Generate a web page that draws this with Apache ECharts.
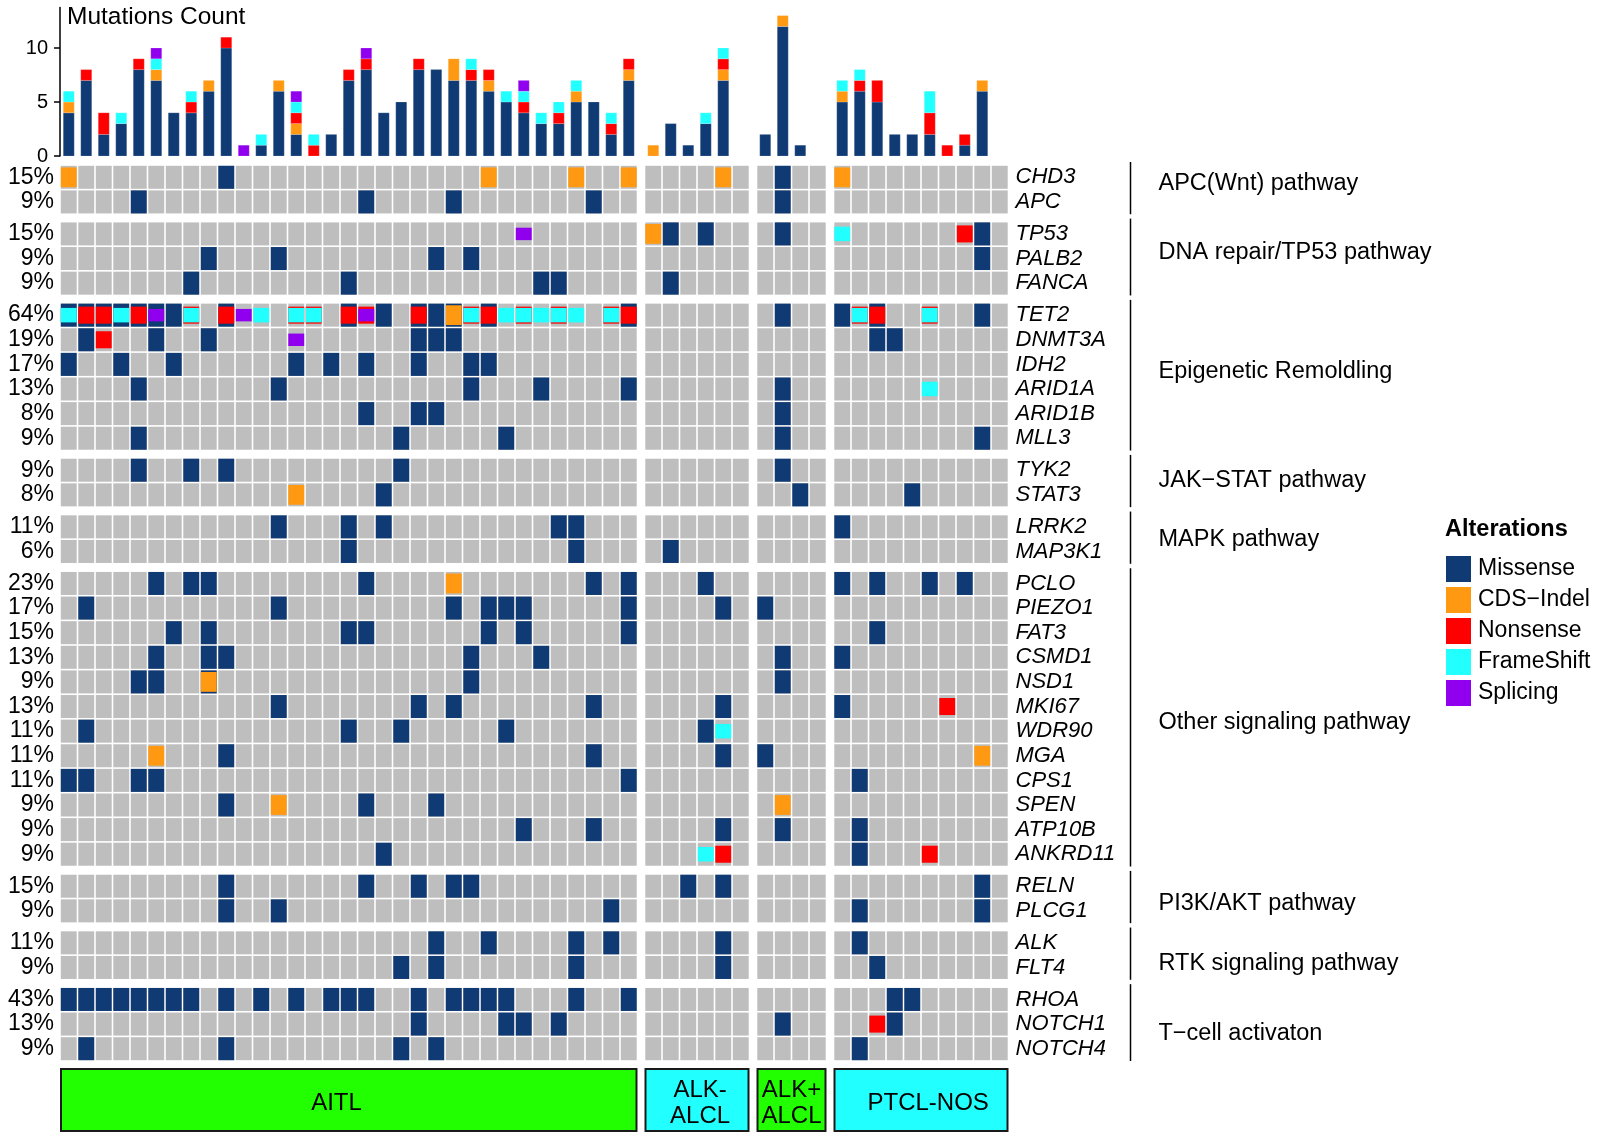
<!DOCTYPE html>
<html><head><meta charset="utf-8">
<script src="https://cdn.jsdelivr.net/npm/echarts@6/dist/echarts.min.js"></script>
<style>html,body{margin:0;padding:0;background:#fff}#c{width:1599px;height:1140px}</style>
</head><body><div id="c"></div>
<script>
// ---------- DATA ----------
const alterationTypes = ['Missense', 'CDS\u2212Indel', 'Nonsense', 'FrameShift', 'Splicing'];
const alterationCodes = ['M', 'I', 'N', 'F', 'S'];
const alterationColors = ['#0f3a73', '#ff9912', '#ff0000', '#22ffff', '#9000ee'];

const cohorts = ['AITL', 'ALK-\nALCL', 'ALK+\nALCL', 'PTCL-NOS'];
const cohortSizes = [33, 6, 4, 10];
const cohortColors = ['#22ff00', '#22ffff', '#22ff00', '#22ffff'];

const pathways = ['APC(Wnt) pathway', 'DNA repair/TP53 pathway', 'Epigenetic Remoldling', 'JAK\u2212STAT pathway',
  'MAPK pathway', 'Other signaling pathway', 'PI3K/AKT pathway', 'RTK signaling pathway', 'T\u2212cell activaton'];
const pathwayGenes = [
  ['CHD3', 'APC'],
  ['TP53', 'PALB2', 'FANCA'],
  ['TET2', 'DNMT3A', 'IDH2', 'ARID1A', 'ARID1B', 'MLL3'],
  ['TYK2', 'STAT3'],
  ['LRRK2', 'MAP3K1'],
  ['PCLO', 'PIEZO1', 'FAT3', 'CSMD1', 'NSD1', 'MKI67', 'WDR90', 'MGA', 'CPS1', 'SPEN', 'ATP10B', 'ANKRD11'],
  ['RELN', 'PLCG1'],
  ['ALK', 'FLT4'],
  ['RHOA', 'NOTCH1', 'NOTCH4']
];
const percentLabels = ['15%', '9%', '15%', '9%', '9%', '64%', '19%', '17%', '13%', '8%', '9%', '9%', '8%', '11%', '6%',
  '23%', '17%', '15%', '13%', '9%', '13%', '11%', '11%', '11%', '9%', '9%', '9%', '15%', '9%', '11%', '9%', '43%', '13%', '9%'];

// bar chart: mutation counts per sample (53 samples)
const countMissense   = [4,7,2,3,8,7,4,4,6,10,0,1,6,2,0,2,7,8,4,5,8,8,7,7,6,5,4,3,3,5,5,2,7, 0,3,1,3,7,0, 2,12,1,0, 5,6,5,2,2,2,0,1,6,0];
const countCDSIndel   = [1,0,0,0,0,1,0,0,1,0,0,0,1,1,0,0,0,0,0,0,0,0,2,0,1,0,0,0,0,1,0,0,1, 1,0,0,0,1,0, 0,1,0,0, 1,0,0,0,0,0,0,0,1,0];
const countNonsense   = [0,1,2,0,1,0,0,1,0,1,0,0,0,1,1,0,1,1,0,0,1,0,0,1,1,0,1,0,1,0,0,1,1, 0,0,0,0,1,0, 0,0,0,0, 0,1,2,0,0,2,1,1,0,0];
const countFrameShift = [1,0,0,1,0,1,0,1,0,0,0,1,0,1,1,0,0,0,0,0,0,0,0,1,0,1,1,1,1,1,0,1,0, 0,0,0,1,1,0, 0,0,0,0, 1,1,0,0,0,2,0,0,0,0];
const countSplicing   = [0,0,0,0,0,1,0,0,0,0,1,0,0,1,0,0,0,1,0,0,0,0,0,0,0,0,1,0,0,0,0,0,0, 0,0,0,0,0,0, 0,0,0,0, 0,0,0,0,0,0,0,0,0,0];
const yTicks = [0, 5, 10];

// oncoprint cells: [sample index, alteration code(s)] ; two letters = outer + inner
const mut_CHD3    = [[0,'I'],[9,'M'],[24,'I'],[29,'I'],[32,'I'],[37,'I'],[40,'M'],[43,'I']];
const mut_APC     = [[4,'M'],[17,'M'],[22,'M'],[30,'M'],[40,'M']];
const mut_TP53    = [[26,'S'],[33,'I'],[34,'M'],[36,'M'],[40,'M'],[43,'F'],[50,'N'],[51,'M']];
const mut_PALB2   = [[8,'M'],[12,'M'],[21,'M'],[23,'M'],[51,'M']];
const mut_FANCA   = [[7,'M'],[16,'M'],[27,'M'],[28,'M'],[34,'M']];
const mut_TET2    = [[0,'MF'],[1,'MN'],[2,'MN'],[3,'MF'],[4,'MN'],[5,'MS'],[6,'M'],[7,'NF'],[9,'MN'],[10,'S'],[11,'F'],
  [13,'NF'],[14,'NF'],[16,'MN'],[17,'NS'],[18,'M'],[20,'MN'],[21,'M'],[22,'MI'],[23,'NF'],[24,'MN'],[25,'F'],[26,'NF'],
  [27,'F'],[28,'NF'],[29,'F'],[31,'NF'],[32,'MN'],[40,'M'],[43,'M'],[44,'NF'],[45,'MN'],[48,'NF'],[51,'M']];
const mut_DNMT3A  = [[1,'M'],[2,'N'],[5,'M'],[8,'M'],[13,'S'],[20,'M'],[21,'M'],[22,'M'],[45,'M'],[46,'M']];
const mut_IDH2    = [[0,'M'],[3,'M'],[6,'M'],[13,'M'],[15,'M'],[17,'M'],[20,'M'],[23,'M'],[24,'M']];
const mut_ARID1A  = [[4,'M'],[12,'M'],[23,'M'],[27,'M'],[32,'M'],[40,'M'],[48,'F']];
const mut_ARID1B  = [[17,'M'],[20,'M'],[21,'M'],[40,'M']];
const mut_MLL3    = [[4,'M'],[19,'M'],[25,'M'],[40,'M'],[51,'M']];
const mut_TYK2    = [[4,'M'],[7,'M'],[9,'M'],[19,'M'],[40,'M']];
const mut_STAT3   = [[13,'I'],[18,'M'],[41,'M'],[47,'M']];
const mut_LRRK2   = [[12,'M'],[16,'M'],[18,'M'],[28,'M'],[29,'M'],[43,'M']];
const mut_MAP3K1  = [[16,'M'],[29,'M'],[34,'M']];
const mut_PCLO    = [[5,'M'],[7,'M'],[8,'M'],[17,'M'],[22,'I'],[30,'M'],[32,'M'],[36,'M'],[43,'M'],[45,'M'],[48,'M'],[50,'M']];
const mut_PIEZO1  = [[1,'M'],[12,'M'],[22,'M'],[24,'M'],[25,'M'],[26,'M'],[32,'M'],[37,'M'],[39,'M']];
const mut_FAT3    = [[6,'M'],[8,'M'],[16,'M'],[17,'M'],[24,'M'],[26,'M'],[32,'M'],[45,'M']];
const mut_CSMD1   = [[5,'M'],[8,'M'],[9,'M'],[23,'M'],[27,'M'],[40,'M'],[43,'M']];
const mut_NSD1    = [[4,'M'],[5,'M'],[8,'MI'],[23,'M'],[40,'M']];
const mut_MKI67   = [[12,'M'],[20,'M'],[22,'M'],[30,'M'],[37,'M'],[43,'M'],[49,'N']];
const mut_WDR90   = [[1,'M'],[16,'M'],[19,'M'],[25,'M'],[36,'M'],[37,'F']];
const mut_MGA     = [[5,'I'],[9,'M'],[30,'M'],[37,'M'],[39,'M'],[51,'I']];
const mut_CPS1    = [[0,'M'],[1,'M'],[4,'M'],[5,'M'],[32,'M'],[44,'M']];
const mut_SPEN    = [[9,'M'],[12,'I'],[17,'M'],[21,'M'],[40,'I']];
const mut_ATP10B  = [[26,'M'],[30,'M'],[37,'M'],[40,'M'],[44,'M']];
const mut_ANKRD11 = [[18,'M'],[36,'F'],[37,'N'],[44,'M'],[48,'N']];
const mut_RELN    = [[9,'M'],[17,'M'],[20,'M'],[22,'M'],[23,'M'],[35,'M'],[37,'M'],[51,'M']];
const mut_PLCG1   = [[9,'M'],[12,'M'],[31,'M'],[44,'M'],[51,'M']];
const mut_ALK     = [[21,'M'],[24,'M'],[29,'M'],[31,'M'],[37,'M'],[44,'M']];
const mut_FLT4    = [[19,'M'],[21,'M'],[29,'M'],[37,'M'],[45,'M']];
const mut_RHOA    = [[0,'M'],[1,'M'],[2,'M'],[3,'M'],[4,'M'],[5,'M'],[6,'M'],[7,'M'],[9,'M'],[11,'M'],[13,'M'],[15,'M'],
  [16,'M'],[17,'M'],[20,'M'],[22,'M'],[23,'M'],[24,'M'],[25,'M'],[29,'M'],[32,'M'],[46,'M'],[47,'M']];
const mut_NOTCH1  = [[20,'M'],[25,'M'],[26,'M'],[28,'M'],[40,'M'],[45,'N'],[46,'M']];
const mut_NOTCH4  = [[1,'M'],[9,'M'],[19,'M'],[21,'M'],[44,'M']];

const geneMutations = [mut_CHD3, mut_APC, mut_TP53, mut_PALB2, mut_FANCA, mut_TET2, mut_DNMT3A, mut_IDH2, mut_ARID1A,
  mut_ARID1B, mut_MLL3, mut_TYK2, mut_STAT3, mut_LRRK2, mut_MAP3K1, mut_PCLO, mut_PIEZO1, mut_FAT3, mut_CSMD1, mut_NSD1,
  mut_MKI67, mut_WDR90, mut_MGA, mut_CPS1, mut_SPEN, mut_ATP10B, mut_ANKRD11, mut_RELN, mut_PLCG1, mut_ALK, mut_FLT4,
  mut_RHOA, mut_NOTCH1, mut_NOTCH4];

// ---------- LAYOUT ----------
const FONT = '"Liberation Sans", Arial, Helvetica, sans-serif';
const GAPX = 0.4, GAPY = 0.3;
const heightFrac = { M: 1.0, I: 0.86, N: 0.74, F: 0.63, S: 0.54 };
const pathwayLabelNudge = [-4, -4, -3, 0, 2, 6, 7, 10, 11];   // px, vertical text nudges
const cohortLabelNudge = [-12, 3, 0, 7];                      // px, horizontal text nudges
const codeColor = {}; alterationCodes.forEach((c, i) => codeColor[c] = alterationColors[i]);

const colX = []; const cohortRange = [];
let off = 0;
cohortSizes.forEach((n, g) => {
  const s = off + g * GAPX;
  for (let i = 0; i < n; i++) colX.push(s + i + 0.5);
  cohortRange.push([s, s + n]);
  off += n;
});
const nCols = colX.length;
const xMax = nCols + (cohortSizes.length - 1) * GAPX;

const genes = pathwayGenes.flat();
const rowY = []; const groupSpan = [];
let r = 0;
pathwayGenes.forEach((gs, k) => {
  const s = r + k * GAPY;
  gs.forEach((g, i) => rowY.push(s + i + 0.5));
  groupSpan.push([s, s + gs.length]);
  r += gs.length;
});
const yMax = r + (pathwayGenes.length - 1) * GAPY;

const cellData = [], cellCodes = [];
genes.forEach((g, gi) => {
  const m = {}; geneMutations[gi].forEach(([c, code]) => m[c] = code);
  for (let c = 0; c < nCols; c++) { cellData.push([colX[c], rowY[gi]]); cellCodes.push(m[c] || ''); }
});

function renderCell(params, api) {
  const p = api.coord([api.value(0), api.value(1)]);
  const s = api.size([1, 1]);
  const w = s[0] - 1.6, h = s[1] - 1.6;
  const children = [{ type: 'rect', shape: { x: p[0] - w / 2, y: p[1] - h / 2, width: w, height: h }, style: { fill: '#bebebe' } }];
  const code = cellCodes[params.dataIndex];
  for (const ch of code) {
    const hh = h * heightFrac[ch];
    children.push({ type: 'rect', shape: { x: p[0] - w / 2, y: p[1] - hh / 2, width: w, height: hh }, style: { fill: codeColor[ch] } });
  }
  return { type: 'group', children };
}

function renderGeneLabel(params, api) {
  const y = api.value(1);
  const left = api.coord([0, y]), right = api.coord([xMax, y]);
  const i = params.dataIndex;
  return { type: 'group', children: [
    { type: 'text', style: { text: percentLabels[i], x: left[0] - 6, y: left[1], align: 'right', verticalAlign: 'middle', fill: '#000', font: '23px ' + FONT } },
    { type: 'text', style: { text: genes[i], x: right[0] + 7, y: right[1], align: 'left', verticalAlign: 'middle', fill: '#000', font: 'italic 22px ' + FONT } }
  ]};
}

function renderPathway(params, api) {
  const i = params.dataIndex;
  const a = api.coord([xMax, groupSpan[i][0]]), b = api.coord([xMax, groupSpan[i][1]]);
  const bx = a[0] + 122;
  return { type: 'group', children: [
    { type: 'line', shape: { x1: bx, y1: a[1] - 3, x2: bx, y2: b[1] }, style: { stroke: '#000', lineWidth: 1.5 } },
    { type: 'text', style: { text: pathways[i], x: a[0] + 150, y: (a[1] + b[1]) / 2 - 2 + pathwayLabelNudge[i] * 1.02,
      align: 'left', verticalAlign: 'middle', fill: '#000', font: '23.5px ' + FONT } }
  ]};
}

function renderCohort(params, api) {
  const i = params.dataIndex;
  const a = api.coord([cohortRange[i][0], 1]), b = api.coord([cohortRange[i][1], 0]);
  return { type: 'group', children: [
    { type: 'rect', shape: { x: a[0] + 1, y: a[1] + 1, width: b[0] - a[0] - 2, height: b[1] - a[1] - 2 },
      style: { fill: cohortColors[i], stroke: '#1a1a1a', lineWidth: 2 } },
    { type: 'text', style: { text: cohorts[i], x: (a[0] + b[0]) / 2 + cohortLabelNudge[i] * 1.02, y: (a[1] + b[1]) / 2 + 3,
      align: 'center', verticalAlign: 'middle', fill: '#000', font: '24px ' + FONT, lineHeight: 26 } }
  ]};
}

const counts = [countMissense, countCDSIndel, countNonsense, countFrameShift, countSplicing];
function makeBarRender(k) {
  return function (params, api) {
    const i = params.dataIndex;
    const v = api.value(1);
    if (!v) return null;
    let base = 0;
    for (let j = 0; j < k; j++) base += counts[j][i];
    const x = api.value(0);
    const p0 = api.coord([x, base]), p1 = api.coord([x, base + v]);
    return { type: 'rect', shape: { x: p0[0] - 5.5, y: p1[1], width: 11, height: p0[1] - p1[1] },
      style: { fill: alterationColors[k], stroke: 'rgba(255,255,255,0.35)', lineWidth: 0.5 } };
  };
}
const barSeries = alterationTypes.map((name, k) => ({
  name, type: 'custom', xAxisIndex: 0, yAxisIndex: 0, clip: false, renderItem: makeBarRender(k),
  itemStyle: { color: alterationColors[k] },
  data: colX.map((x, i) => [x, counts[k][i]])
}));

const chart = echarts.init(document.getElementById('c'), null, { renderer: 'canvas' });
chart.setOption({
  animation: false,
  backgroundColor: '#fff',
  textStyle: { fontFamily: FONT },
  title: [
    { text: 'Mutations Count', left: 67, top: 5, padding: 0, textStyle: { fontSize: 24.5, fontWeight: 'normal', color: '#000', fontFamily: FONT } },
    { text: 'Alterations', left: 1445, top: 518, padding: 0, textStyle: { fontSize: 23.5, fontWeight: 'bold', color: '#000', fontFamily: FONT } }
  ],
  legend: {
    data: alterationTypes, left: 1446, top: 556, orient: 'vertical', icon: 'rect', itemWidth: 25, itemHeight: 26, itemGap: 5,
    padding: 0, selectedMode: false, textStyle: { fontSize: 23, color: '#000', fontFamily: FONT, padding: [0, 0, 0, 2] }
  },
  grid: [
    { left: 60, top: 7.5, width: 948.5, height: 148.5 },
    { left: 60, top: 165, width: 948.5, height: 896 },
    { left: 60, top: 1068, width: 948.5, height: 64 }
  ],
  xAxis: [0, 1, 2].map(i => ({ type: 'value', gridIndex: i, min: 0, max: xMax, show: false })),
  yAxis: [
    { type: 'value', gridIndex: 0, min: 0, max: 13.75, interval: 5,
      axisLine: { show: true, lineStyle: { color: '#000', width: 1.5 } },
      axisTick: { show: true, length: 6, lineStyle: { color: '#000', width: 1.5 }, customValues: yTicks },
      axisLabel: { color: '#000', fontSize: 20, margin: 12, customValues: yTicks, fontFamily: FONT },
      splitLine: { show: false } },
    { type: 'value', gridIndex: 1, min: 0, max: yMax, inverse: true, show: false },
    { type: 'value', gridIndex: 2, min: 0, max: 1, show: false }
  ],
  series: [
    ...barSeries,
    { type: 'custom', name: 'cells', xAxisIndex: 1, yAxisIndex: 1, clip: false, renderItem: renderCell, data: cellData, silent: true },
    { type: 'custom', name: 'geneLabels', xAxisIndex: 1, yAxisIndex: 1, clip: false, renderItem: renderGeneLabel,
      data: rowY.map(y => [0, y]), silent: true },
    { type: 'custom', name: 'pathways', xAxisIndex: 1, yAxisIndex: 1, clip: false, renderItem: renderPathway,
      data: groupSpan.map(s => [xMax, (s[0] + s[1]) / 2]), silent: true },
    { type: 'custom', name: 'cohorts', xAxisIndex: 2, yAxisIndex: 2, clip: false, renderItem: renderCohort,
      data: cohortRange.map(c => [(c[0] + c[1]) / 2, 0.5]), silent: true }
  ]
});
</script>
</body></html>
